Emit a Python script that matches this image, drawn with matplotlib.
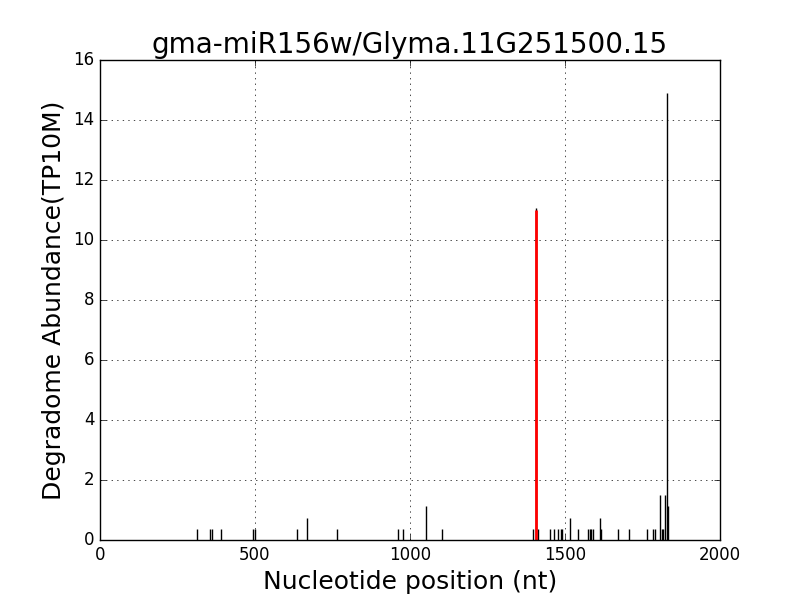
import matplotlib
matplotlib.use('Agg')
import matplotlib.pyplot as plt

plt.style.use('classic')

# degradome reads: position (nt) and abundance (TP10M)
positions = [312, 355, 360, 390, 495, 499, 637, 669, 766, 962, 978, 1052, 1104,
             1398, 1405, 1414, 1452, 1465, 1478, 1486, 1490, 1517, 1543,
             1575, 1580, 1585, 1590, 1613, 1617, 1672, 1707, 1766, 1785, 1790,
             1806, 1812, 1817, 1823, 1828, 1831]
abundance = [0.37, 0.37, 0.37, 0.37, 0.37, 0.37, 0.37, 0.75, 0.37, 0.37, 0.37, 1.12, 0.37,
             0.37, 11.08, 0.37, 0.37, 0.37, 0.37, 0.37, 0.37, 0.75, 0.37,
             0.37, 0.37, 0.37, 0.37, 0.75, 0.37, 0.37, 0.37, 0.37, 0.37, 0.37,
             1.5, 0.37, 0.37, 1.5, 14.9, 1.12]

# cleavage site of the miRNA
site_pos = [1405]
site_abund = [11.0]

fig = plt.figure(figsize=(8, 6), dpi=100, facecolor='white')
ax = fig.add_subplot(111)

ax.vlines(positions, 0, abundance, colors='black', linewidth=1)
ax.vlines(site_pos, 0, site_abund, colors='red', linewidth=2)

ax.set_xlim(0, 2000)
ax.set_ylim(0, 16)
ax.grid(True)
ax.set_title('gma-miR156w/Glyma.11G251500.15', fontsize=20)
ax.set_xlabel('Nucleotide position (nt)', fontsize=18)
ax.set_ylabel('Degradome Abundance(TP10M)', fontsize=18)

fig.savefig('out.png', dpi=100, facecolor='white')
